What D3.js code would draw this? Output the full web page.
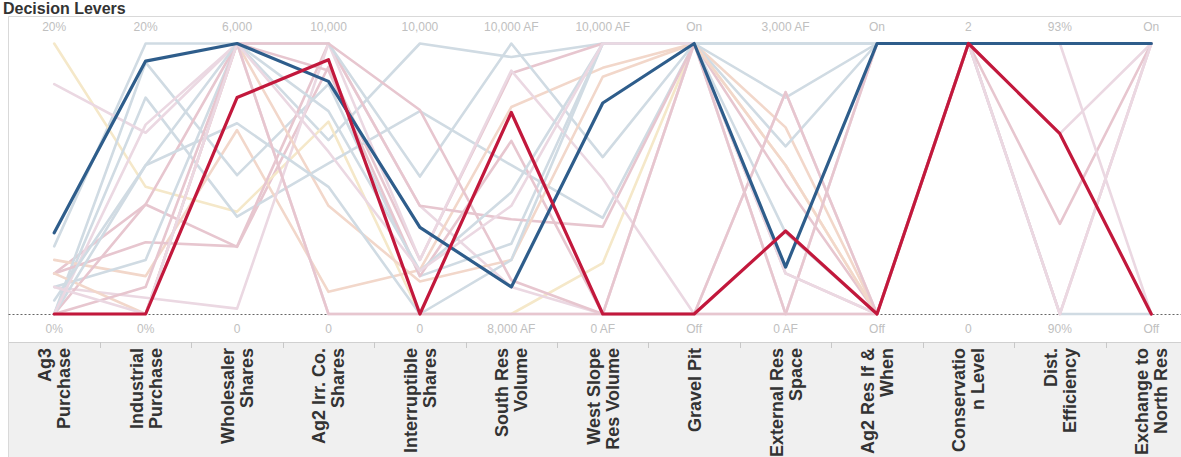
<!DOCTYPE html>
<html><head><meta charset="utf-8">
<script src="https://cdn.jsdelivr.net/npm/d3@7/dist/d3.min.js"></script>
<style>body{margin:0;background:#fff;overflow:hidden}svg{display:block}</style>
</head><body><svg id="c" width="1181" height="457"></svg>
<script>
// ---- data ----
const axes = ["Ag3 Purchase","Industrial Purchase","Wholesaler Shares","Ag2 Irr. Co. Shares","Interruptible Shares","South Res Volume","West Slope Res Volume","Gravel Pit","External Res Space","Ag2 Res If & When","Conservation Level","Dist. Efficiency","Exchange to North Res"];
const headerLines = [["Ag3","Purchase"],["Industrial","Purchase"],["Wholesaler","Shares"],["Ag2 Irr. Co.","Shares"],["Interruptible","Shares"],["South Res","Volume"],["West Slope","Res Volume"],["Gravel Pit"],["External Res","Space"],["Ag2 Res If &","When"],["Conservatio","n Level"],["Dist.","Efficiency"],["Exchange to","North Res"]];
const axisMin = [0,0,0,0,0,8000,0,0,0,0,0,90,0];
const axisMax = [20,20,6000,10000,10000,10000,10000,1,3000,1,2,93,1];
const minLabels = ["0%","0%","0","0","0","8,000 AF","0 AF","Off","0 AF","Off","0","90%","Off"];
const maxLabels = ["20%","20%","6,000","10,000","10,000","10,000 AF","10,000 AF","On","3,000 AF","On","2","93%","On"];

// faded scenarios
const fadedNames = ["L1","K1","Y1","L2","M1","P1","L3","K2","M2","L4","K3","P2","L5","K4","M3","L6","K5","M4"];
const fadedGroups = ["lb","pink","yellow","lb","mauve","peach","lb","pink","mauve","lb","pink","peach","lb","pink","mauve","lb","pink","mauve"];
const fadedValues = [
  [5.0, 20, 6000, 6430, 10000, 9900, 10000, 1, 3000, 1, 2, 93, 1],
  [3.0, 8.1, 1490, 9140, 2000, 9780, 10000, 1, 1440, 0, 2, 91.0, 1],
  [20, 9.4, 2270, 7110, 0, 8000, 1880, 1, 1650, 0, 2, 93, 1],
  [0, 16, 2160, 5570, 7500, 9100, 3550, 1, 900, 0, 2, 93, 1],
  [17, 13.4, 6000, 10000, 4000, 8200, 0, 1, 0, 0, 2, 93, 1],
  [4.0, 2.8, 4080, 820, 1630, 9530, 9100, 1, 2070, 0, 2, 93, 1],
  [0, 18.6, 3080, 8500, 1400, 8520, 10000, 1, 2400, 1, 2, 93, 1],
  [3.0, 5.3, 1500, 10000, 4000, 8700, 3230, 1, 450, 0, 2, 93, 1],
  [2.0, 1.2, 120, 10000, 2000, 9800, 5000, 0, 2460, 0, 2, 92.0, 1],
  [2.0, 4.0, 6000, 10000, 5080, 10000, 5800, 1, 1860, 1, 2, 93, 1],
  [0, 8.1, 6000, 9000, 1400, 9280, 0, 1, 0, 0, 2, 93, 1],
  [3.0, 0, 6000, 4000, 1200, 8400, 8770, 1, 1650, 0, 2, 93, 1],
  [0, 11, 4230, 4700, 0, 8400, 10000, 1, 3000, 1, 2, 90, 0],
  [0, 0, 6000, 10000, 7540, 8250, 0, 0, 2460, 0, 2, 90, 1],
  [0, 14, 6000, 0, 0, 8000, 0, 0, 0, 1, 2, 90, 1],
  [1.0, 11, 6000, 7500, 1600, 8900, 10000, 1, 3000, 1, 2, 93, 1],
  [0, 2.0, 6000, 0, 0, 8000, 0, 0, 0, 1, 2, 93, 1],
  [2.0, 0, 6000, 6000, 1600, 8800, 10000, 1, 450, 0, 2, 93, 0]
];
const blueValues = [6.0, 18.7, 6000, 8600, 3200, 8200, 7800, 1, 520, 1, 2, 93, 1];
const redValues  = [0, 0, 4800, 9400, 0, 9490, 0, 0, 920, 0, 2, 92.0, 0];

const groupColor = {lb:"#d0dbe3", pink:"#e7c6cf", mauve:"#ebd8e2", peach:"#f2d7ca", yellow:"#f5e8c9"};

// ---- layout ----
const svg = d3.select("#c");
const W = 1181, yTop = 43.5, yBottom = 314;
const x = d3.scalePoint().domain(axes).range([8.5, 1197]).padding(0.5);
const step = x.step();
const y = axes.map((a,i)=>d3.scaleLinear().domain([axisMin[i],axisMax[i]]).range([yBottom, yTop]));

// title
svg.append("text").attr("x",3).attr("y",13.5).attr("text-anchor","start")
  .attr("font-family","Liberation Sans, Arial, sans-serif").attr("font-weight","bold")
  .attr("font-size",16).attr("fill","#333").text("Decision Levers");

// frame
svg.append("line").attr("x1",8.5).attr("x2",W).attr("y1",16.5).attr("y2",16.5).attr("stroke","#d9d9d9");
// header band
svg.append("rect").attr("x",8.5).attr("y",342).attr("width",W).attr("height",120).attr("fill","#f0f0f0");
svg.append("line").attr("x1",8.5).attr("x2",W).attr("y1",342.5).attr("y2",342.5).attr("stroke","#d0d0d0");
svg.append("line").attr("x1",8.5).attr("x2",8.5).attr("y1",16.5).attr("y2",457).attr("stroke","#d9d9d9");
axes.forEach((a,i)=>{
  if(i===0) return;
  const bx = Math.round(x(a) - step/2) + 0.5;
  svg.append("line").attr("x1",bx).attr("x2",bx).attr("y1",342).attr("y2",348).attr("stroke","#c8c8c8");
});

// dotted baseline
svg.append("line").attr("x1",8.5).attr("x2",W).attr("y1",yBottom+0.5).attr("y2",yBottom+0.5)
  .attr("stroke","#666").attr("stroke-width",1).attr("stroke-dasharray","2,2");

// lines
const line = d3.line().x((d,i)=>x(axes[i])).y((d,i)=>y[i](d));
const g = svg.append("g").attr("fill","none").attr("stroke-linejoin","round").attr("stroke-linecap","round");
fadedValues.forEach((vals,k)=>{
  g.append("path").attr("d",line(vals)).attr("stroke",groupColor[fadedGroups[k]]).attr("stroke-width",2.6);
});
g.append("path").attr("d",line(blueValues)).attr("stroke","#2e5d8b").attr("stroke-width",3.2);
g.append("path").attr("d",line(redValues)).attr("stroke","#c2183c").attr("stroke-width",3.2);

// axis labels
const lab = svg.append("g").attr("font-family","Liberation Sans, Arial, sans-serif").attr("font-size",12)
  .attr("fill","#c0c0c0").attr("text-anchor","middle");
axes.forEach((a,i)=>{
  lab.append("text").attr("x",x(a)).attr("y",31).text(maxLabels[i]);
  lab.append("text").attr("x",x(a)).attr("y",333).text(minLabels[i]);
});

// header labels
const hd = svg.append("g").attr("font-family","Liberation Sans, Arial, sans-serif").attr("font-weight","bold")
  .attr("font-size",18).attr("fill","#333").attr("text-anchor","end");
axes.forEach((a,i)=>{
  const lines = headerLines[i];
  const n = lines.length;
  lines.forEach((t,j)=>{
    const cx = x(a) + (j - (n-1)/2)*19;
    hd.append("text").attr("transform",`translate(${cx+6.5},348) rotate(-90)`).text(t);
  });
});
</script></body></html>
